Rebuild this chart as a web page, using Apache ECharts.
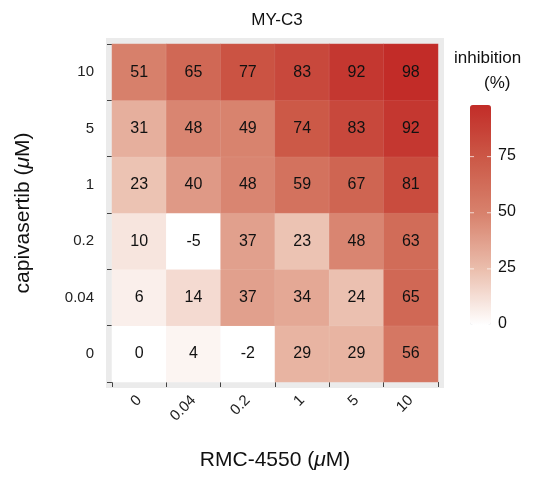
<!DOCTYPE html>
<html><head><meta charset="utf-8">
<script src="https://cdn.jsdelivr.net/npm/echarts@6/dist/echarts.min.js"></script>
<style>html,body{margin:0;padding:0;background:#fff}#c{width:533px;height:484px}</style>
</head><body><div id="c"></div>
<script>
var rmc = ['0', '0.04', '0.2', '1', '5', '10'];
var capi = ['0', '0.04', '0.2', '1', '5', '10'];
// rows from capivasertib 0 up to 10
var row0 = [0, 4, -2, 29, 29, 56];
var row004 = [6, 14, 37, 34, 24, 65];
var row02 = [10, -5, 37, 23, 48, 63];
var row1 = [23, 40, 48, 59, 67, 81];
var row5 = [31, 48, 49, 74, 83, 92];
var row10 = [51, 65, 77, 83, 92, 98];
var rows = [row0, row004, row02, row1, row5, row10];
var legendTicks = [0, 25, 50, 75];

var data = [];
rows.forEach(function (r, yi) {
  r.forEach(function (v, xi) { data.push([xi, yi, v]); });
});

var barTop = 105, barH = 220, vmax = 98, barX = 470;
var legendG = [];
legendTicks.forEach(function (t) {
  var y = barTop + barH * (1 - t / vmax);
  legendG.push({ type: 'text', left: barX + 28, top: y - 9, style: { text: String(t), font: '16px Liberation Sans', fill: '#111' }, z: 10 });
  if (t > 0) {
    legendG.push({ type: 'line', shape: { x1: barX, y1: y, x2: barX + 4, y2: y }, style: { stroke: 'rgba(255,255,255,0.7)' }, z: 10 });
    legendG.push({ type: 'line', shape: { x1: barX + 17, y1: y, x2: barX + 21, y2: y }, style: { stroke: 'rgba(255,255,255,0.7)' }, z: 10 });
  }
});

var chart = echarts.init(document.getElementById('c'));
chart.setOption({
  title: { text: 'MY-C3', left: 272, top: 7, textAlign: 'center',
    textStyle: { fontFamily: 'Liberation Sans', fontWeight: 'normal', fontSize: 17, color: '#111' } },
  graphic: [
    { type: 'rect', shape: { x: 106, y: 38, width: 338, height: 350 }, style: { fill: '#ebebeb' }, z: -10 },
    { type: 'text', left: 454, top: 50, style: { text: 'inhibition', font: '17px Liberation Sans', fill: '#111' } },
    { type: 'text', left: 484, top: 75, style: { text: '(%)', font: '17px Liberation Sans', fill: '#111' } }
  ].concat(legendG),
  grid: { left: 112, right: 95, top: 44, bottom: 102 },
  xAxis: {
    type: 'category', data: rmc,
    name: 'RMC-4550 ({i|μ}M)', nameLocation: 'middle', nameGap: 68,
    nameTextStyle: { fontFamily: 'Liberation Sans', fontSize: 21, color: '#111',
      rich: { i: { fontStyle: 'italic', fontSize: 21, fontFamily: 'Liberation Sans' } } },
    axisLine: { show: false }, axisTick: { show: true, length: 5, lineStyle: { color: '#444' } },
    axisLabel: { rotate: 45, margin: 16, fontSize: 15, color: '#222', fontFamily: 'Liberation Sans' }
  },
  yAxis: {
    type: 'category', data: capi,
    name: 'capivasertib ({i|μ}M)', nameLocation: 'middle', nameGap: 78,
    nameTextStyle: { fontFamily: 'Liberation Sans', fontSize: 21, color: '#111',
      rich: { i: { fontStyle: 'italic', fontSize: 21, fontFamily: 'Liberation Sans' } } },
    axisLine: { show: false }, axisTick: { show: true, length: 5, lineStyle: { color: '#444' } },
    axisLabel: { margin: 18, fontSize: 15, color: '#222', fontFamily: 'Liberation Sans' }
  },
  visualMap: {
    type: 'continuous', min: 0, max: vmax, orient: 'vertical',
    left: barX, top: barTop, itemWidth: 21, itemHeight: barH, padding: 0,
    calculable: false, showLabel: false,
    inRange: { color: ['#ffffff', '#ebbfae', '#d8836e', '#cc5a48', '#c22c28'] }
  },
  series: [{
    type: 'heatmap', data: data,
    label: { show: true, fontSize: 16, color: '#111', fontFamily: 'Liberation Sans' },
    itemStyle: { borderColor: 'rgba(255,255,255,0.15)', borderWidth: 0.5 }
  }]
});
</script>
</body></html>
